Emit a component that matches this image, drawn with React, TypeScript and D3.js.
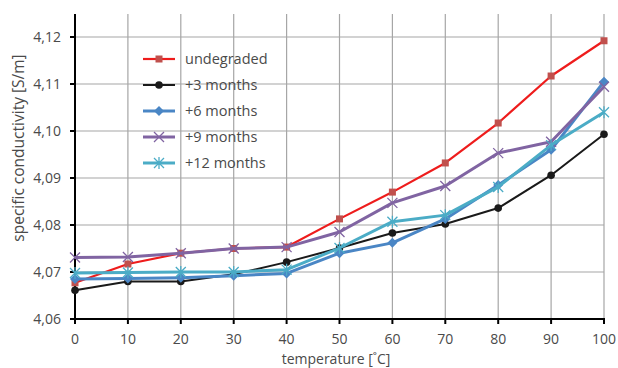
import React from "react";
import * as d3 from "d3";

const temps = [0, 10, 20, 30, 40, 50, 60, 70, 80, 90, 100];
const undegraded = [4.0677, 4.0717, 4.074, 4.075, 4.0753, 4.0813, 4.087, 4.0932, 4.1017, 4.1117, 4.1192];
const m3 = [4.0661, 4.068, 4.068, 4.0695, 4.0721, 4.0751, 4.0783, 4.0802, 4.0836, 4.0906, 4.0993];
const m6 = [4.0685, 4.0686, 4.0688, 4.0692, 4.0697, 4.074, 4.0762, 4.0813, 4.0885, 4.096, 4.1105];
const m9 = [4.0731, 4.0732, 4.074, 4.075, 4.0753, 4.0785, 4.0847, 4.0883, 4.0953, 4.0977, 4.1094];
const m12 = [4.0698, 4.0699, 4.07, 4.07, 4.0705, 4.0751, 4.0807, 4.0821, 4.0881, 4.097, 4.104];
const yTicks = [4.06, 4.07, 4.08, 4.09, 4.1, 4.11, 4.12];
const xTicks = [0, 10, 20, 30, 40, 50, 60, 70, 80, 90, 100];
const seriesNames = ["undegraded", "+3 months", "+6 months", "+9 months", "+12 months"];

const series = [
  { name: seriesNames[0], values: undegraded, color: "#ee1c1c", mcolor: "#c0504d", marker: "square", width: 2.2 },
  { name: seriesNames[1], values: m3, color: "#1a1a1a", mcolor: "#1a1a1a", marker: "circle", width: 2 },
  { name: seriesNames[2], values: m6, color: "#4a86c5", mcolor: "#4a86c5", marker: "diamond", width: 3 },
  { name: seriesNames[3], values: m9, color: "#8064a2", mcolor: "#8064a2", marker: "x", width: 3 },
  { name: seriesNames[4], values: m12, color: "#4bacc6", mcolor: "#4bacc6", marker: "star", width: 3 },
];

const W = 618, H = 368;
const x = d3.scaleLinear().domain([0, 100]).range([75, 604]);
const y = d3.scaleLinear().domain([4.06, 4.12]).range([319, 37]);
const font = "'Open Sans', sans-serif";

function Marker({ type, cx, cy, color }: { type: string; cx: number; cy: number; color: string }) {
  if (type === "square") return <rect x={cx - 3.5} y={cy - 3.5} width={7} height={7} fill={color} />;
  if (type === "circle") return <circle cx={cx} cy={cy} r={3.8} fill={color} />;
  if (type === "diamond")
    return <path d={`M${cx},${cy - 5}L${cx + 5},${cy}L${cx},${cy + 5}L${cx - 5},${cy}Z`} fill={color} />;
  if (type === "x")
    return (
      <path d={`M${cx - 5},${cy - 5}L${cx + 5},${cy + 5}M${cx - 5},${cy + 5}L${cx + 5},${cy - 5}`} stroke={color} strokeWidth={1.3} />
    );
  return (
    <path
      d={`M${cx - 5},${cy - 5}L${cx + 5},${cy + 5}M${cx - 5},${cy + 5}L${cx + 5},${cy - 5}M${cx},${cy - 6}L${cx},${cy + 6}`}
      stroke={color}
      strokeWidth={1.3}
    />
  );
}

export default function App() {
  const line = d3
    .line<number>()
    .x((_, i) => x(temps[i]))
    .y((d) => y(d));
  const fmt = (v: number) => d3.format(".2f")(v).replace(".", ",");
  return (
    <svg width={W} height={H} style={{ position: "absolute", left: 0, top: 0, background: "#fff" }} fontFamily={font}>
      {/* grid */}
      {xTicks.map((t) => (
        <line key={"gx" + t} x1={x(t)} x2={x(t)} y1={14} y2={319} stroke="#a6a6a6" strokeWidth={1.2} />
      ))}
      {yTicks.map((t) => (
        <line key={"gy" + t} x1={75} x2={604} y1={y(t)} y2={y(t)} stroke="#a6a6a6" strokeWidth={1.2} />
      ))}
      {/* axes */}
      <line x1={75} x2={75} y1={14} y2={320} stroke="#000" strokeWidth={2} />
      <line x1={74} x2={605} y1={319} y2={319} stroke="#000" strokeWidth={2} />
      {yTicks.map((t) => (
        <g key={"ty" + t}>
          <line x1={70} x2={75} y1={y(t)} y2={y(t)} stroke="#000" strokeWidth={2} />
          <text x={61} y={y(t) + 5} textAnchor="end" fontSize={14} fill="#4a4a4a">
            {fmt(t)}
          </text>
        </g>
      ))}
      {xTicks.map((t) => (
        <g key={"tx" + t}>
          <line x1={x(t)} x2={x(t)} y1={319} y2={324} stroke="#000" strokeWidth={2} />
          <text x={x(t)} y={344} textAnchor="middle" fontSize={14} fill="#4a4a4a">
            {t}
          </text>
        </g>
      ))}
      <text x={336} y={363.5} textAnchor="middle" fontSize={14} fill="#4a4a4a">
        temperature [˚C]
      </text>
      <text transform="translate(24,148) rotate(-90)" textAnchor="middle" fontSize={15.5} fill="#4a4a4a">
        specific conductivity [S/m]
      </text>
      {/* series */}
      {series.map((s) => (
        <g key={s.name}>
          <path d={line(s.values) || ""} fill="none" stroke={s.color} strokeWidth={s.width} strokeLinejoin="round" />
          {s.values.map((v, i) => (
            <Marker key={i} type={s.marker} cx={x(temps[i])} cy={y(v)} color={s.mcolor} />
          ))}
        </g>
      ))}
      {/* legend */}
      {series.map((s, i) => {
        const ly = 59 + i * 26;
        return (
          <g key={"lg" + s.name}>
            <line x1={143} x2={175} y1={ly} y2={ly} stroke={s.color} strokeWidth={s.width} />
            <Marker type={s.marker} cx={159} cy={ly} color={s.mcolor} />
            <text x={185} y={ly + 5} fontSize={14.5} fill="#4a4a4a">
              {s.name}
            </text>
          </g>
        );
      })}
    </svg>
  );
}
